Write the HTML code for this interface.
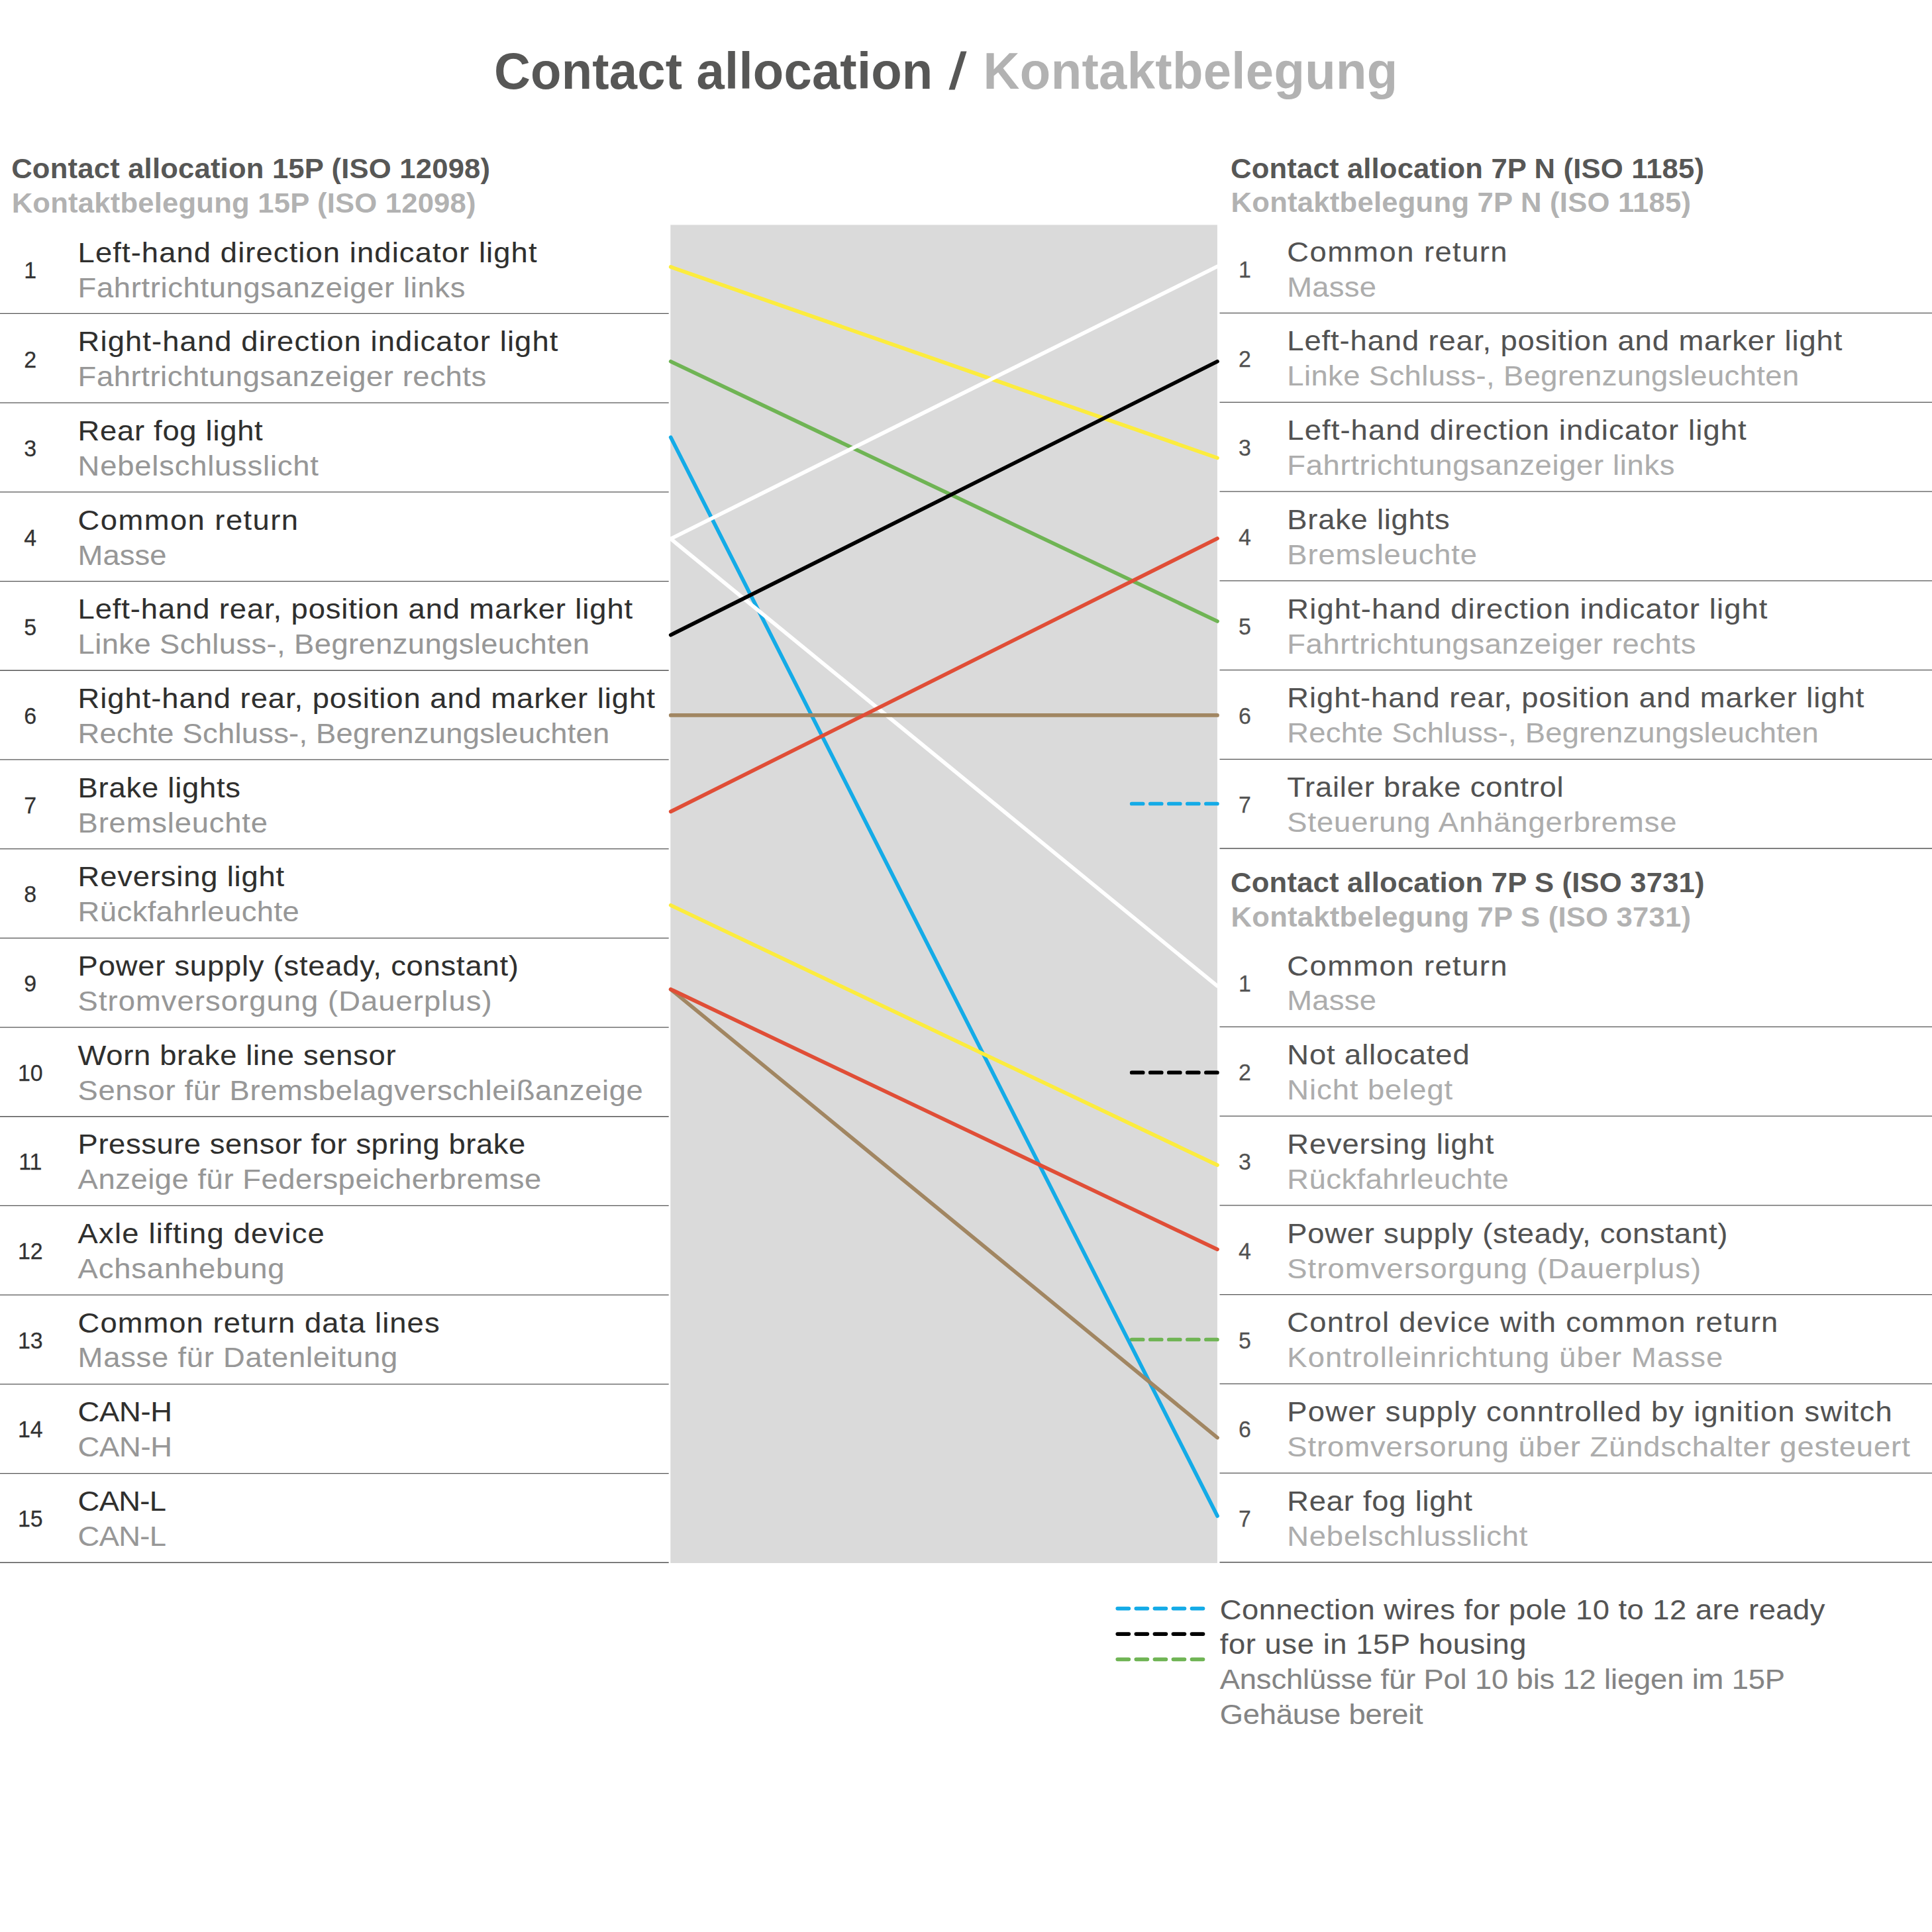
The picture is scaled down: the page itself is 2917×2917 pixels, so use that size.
<!DOCTYPE html>
<html lang="en"><head><meta charset="utf-8">
<title>Contact allocation / Kontaktbelegung</title>
<style>
html,body{margin:0;padding:0;background:#fff;}
body{width:2917px;height:2917px;overflow:hidden;position:relative;}
svg{display:block;position:absolute;left:0;top:0;font-family:"Liberation Sans", Arial, Helvetica, sans-serif;}
text{white-space:pre;}
.sep line{stroke:#555555;stroke-width:1.3;}
.wire line{stroke-width:5.7;stroke-linecap:round;fill:none;}
.dash line{stroke-width:5.7;stroke-linecap:round;stroke-dasharray:17 11.05;}
</style></head><body>
<svg width="2917" height="2917" viewBox="0 0 2917 2917">
<rect x="0" y="0" width="2917" height="2917" fill="#ffffff"/>
<rect x="1012.3" y="339.5" width="825.6" height="2020.5" fill="#dadada"/>
<g class="sep">
<line x1="0" y1="473.46" x2="1009.7" y2="473.46"/>
<line x1="0" y1="608.16" x2="1009.7" y2="608.16"/>
<line x1="0" y1="742.86" x2="1009.7" y2="742.86"/>
<line x1="0" y1="877.56" x2="1009.7" y2="877.56"/>
<line x1="0" y1="1012.26" x2="1009.7" y2="1012.26"/>
<line x1="0" y1="1146.96" x2="1009.7" y2="1146.96"/>
<line x1="0" y1="1281.66" x2="1009.7" y2="1281.66"/>
<line x1="0" y1="1416.36" x2="1009.7" y2="1416.36"/>
<line x1="0" y1="1551.06" x2="1009.7" y2="1551.06"/>
<line x1="0" y1="1685.76" x2="1009.7" y2="1685.76"/>
<line x1="0" y1="1820.46" x2="1009.7" y2="1820.46"/>
<line x1="0" y1="1955.16" x2="1009.7" y2="1955.16"/>
<line x1="0" y1="2089.86" x2="1009.7" y2="2089.86"/>
<line x1="0" y1="2224.56" x2="1009.7" y2="2224.56"/>
<line x1="0" y1="2359.26" x2="1009.7" y2="2359.26"/>
<line x1="1841.5" y1="472.70" x2="2917" y2="472.70"/>
<line x1="1841.5" y1="607.42" x2="2917" y2="607.42"/>
<line x1="1841.5" y1="742.14" x2="2917" y2="742.14"/>
<line x1="1841.5" y1="876.85" x2="2917" y2="876.85"/>
<line x1="1841.5" y1="1011.57" x2="2917" y2="1011.57"/>
<line x1="1841.5" y1="1146.29" x2="2917" y2="1146.29"/>
<line x1="1841.5" y1="1281.01" x2="2917" y2="1281.01"/>
<line x1="1841.5" y1="1550.44" x2="2917" y2="1550.44"/>
<line x1="1841.5" y1="1685.16" x2="2917" y2="1685.16"/>
<line x1="1841.5" y1="1819.88" x2="2917" y2="1819.88"/>
<line x1="1841.5" y1="1954.60" x2="2917" y2="1954.60"/>
<line x1="1841.5" y1="2089.32" x2="2917" y2="2089.32"/>
<line x1="1841.5" y1="2224.03" x2="2917" y2="2224.03"/>
<line x1="1841.5" y1="2358.75" x2="2917" y2="2358.75"/>
</g>
<g class="dash">
<line x1="1708.7" y1="1213.5" x2="1837.9" y2="1213.5" stroke="#14abe7"/>
<line x1="1708.7" y1="1619.4" x2="1837.9" y2="1619.4" stroke="#000000"/>
<line x1="1708.7" y1="2022.5" x2="1837.9" y2="2022.5" stroke="#6fb454"/>
<line x1="1687.3" y1="2428.6" x2="1816.5" y2="2428.6" stroke="#14abe7"/>
<line x1="1687.3" y1="2467.1" x2="1816.5" y2="2467.1" stroke="#000000"/>
<line x1="1687.3" y1="2505.3" x2="1816.5" y2="2505.3" stroke="#6fb454"/>
</g>
<g class="wire">
<line x1="1012.7" y1="403.0" x2="1838.0" y2="691.4" stroke="#fcec3e"/>
<line x1="1012.7" y1="545.8" x2="1838.0" y2="938.0" stroke="#6fb454"/>
<line x1="1012.7" y1="660.3" x2="1838.0" y2="2288.9" stroke="#14abe7"/>
<line x1="1012.7" y1="813.5" x2="1838.0" y2="402.3" stroke="#ffffff" stroke-width="5"/>
<line x1="1012.7" y1="813.5" x2="1838.0" y2="1488.8" stroke="#ffffff" stroke-width="5"/>
<line x1="1012.7" y1="958.7" x2="1838.0" y2="545.8" stroke="#000000"/>
<line x1="1012.7" y1="1079.9" x2="1838.0" y2="1079.9" stroke="#a18662"/>
<line x1="1012.7" y1="1225.4" x2="1838.0" y2="813.0" stroke="#e04e37"/>
<line x1="1012.7" y1="1366.8" x2="1838.0" y2="1759.1" stroke="#fcec3e"/>
<line x1="1012.7" y1="1493.7" x2="1838.0" y2="2170.6" stroke="#a18662"/>
<line x1="1012.7" y1="1493.7" x2="1838.0" y2="1886.4" stroke="#e04e37"/>
</g>
<g>
<text transform="translate(745.88 134.00) scale(0.975 1)" font-size="78" font-weight="700" fill="#575756" style="letter-spacing:0.205px">Contact allocation</text>
<text transform="translate(1432.10 134.00) scale(0.975 1) skewX(-7.4)" font-size="78" font-weight="700" fill="#575756" style="letter-spacing:0.000px">/</text>
<text transform="translate(1484.62 134.00) scale(0.975 1)" font-size="78" font-weight="700" fill="#b2b2b2" style="letter-spacing:0.340px">Kontaktbelegung</text>
<text transform="translate(17.18 268.50) scale(1.015 1)" font-size="43" font-weight="700" fill="#575756" style="letter-spacing:0.176px">Contact allocation 15P (ISO 12098)</text>
<text transform="translate(17.67 321.30) scale(1.015 1)" font-size="43" font-weight="700" fill="#b2b2b2" style="letter-spacing:0.190px">Kontaktbelegung 15P (ISO 12098)</text>
<text transform="translate(1858.08 268.50) scale(1.015 1)" font-size="43" font-weight="700" fill="#575756" style="letter-spacing:0.156px">Contact allocation 7P N (ISO 1185)</text>
<text transform="translate(1858.57 320.20) scale(1.015 1)" font-size="43" font-weight="700" fill="#b2b2b2" style="letter-spacing:0.220px">Kontaktbelegung 7P N (ISO 1185)</text>
<text transform="translate(1858.08 1346.60) scale(1.015 1)" font-size="43" font-weight="700" fill="#575756" style="letter-spacing:0.174px">Contact allocation 7P S (ISO 3731)</text>
<text transform="translate(1858.57 1399.40) scale(1.015 1)" font-size="43" font-weight="700" fill="#b2b2b2" style="letter-spacing:0.220px">Kontaktbelegung 7P S (ISO 3731)</text>
<text transform="translate(117.60 395.75) scale(1.055 1)" font-size="43" font-weight="400" fill="#2f2f2e" stroke="#2f2f2e" stroke-width="0.12" style="letter-spacing:1.042px">Left-hand direction indicator light</text>
<text transform="translate(117.60 448.65) scale(1.055 1)" font-size="43" font-weight="400" fill="#979797" stroke="#979797" stroke-width="0.12" style="letter-spacing:0.616px">Fahrtrichtungsanzeiger links</text>
<text transform="translate(117.60 530.40) scale(1.055 1)" font-size="43" font-weight="400" fill="#2f2f2e" stroke="#2f2f2e" stroke-width="0.12" style="letter-spacing:1.057px">Right-hand direction indicator light</text>
<text transform="translate(117.60 583.30) scale(1.055 1)" font-size="43" font-weight="400" fill="#979797" stroke="#979797" stroke-width="0.12" style="letter-spacing:0.561px">Fahrtrichtungsanzeiger rechts</text>
<text transform="translate(117.60 665.05) scale(1.055 1)" font-size="43" font-weight="400" fill="#2f2f2e" stroke="#2f2f2e" stroke-width="0.12" style="letter-spacing:0.680px">Rear fog light</text>
<text transform="translate(117.60 717.95) scale(1.055 1)" font-size="43" font-weight="400" fill="#979797" stroke="#979797" stroke-width="0.12" style="letter-spacing:0.769px">Nebelschlusslicht</text>
<text transform="translate(117.60 799.70) scale(1.055 1)" font-size="43" font-weight="400" fill="#2f2f2e" stroke="#2f2f2e" stroke-width="0.12" style="letter-spacing:1.373px">Common return</text>
<text transform="translate(117.60 852.60) scale(1.055 1)" font-size="43" font-weight="400" fill="#979797" stroke="#979797" stroke-width="0.12" style="letter-spacing:0.049px">Masse</text>
<text transform="translate(117.60 934.35) scale(1.055 1)" font-size="43" font-weight="400" fill="#2f2f2e" stroke="#2f2f2e" stroke-width="0.12" style="letter-spacing:0.849px">Left-hand rear, position and marker light</text>
<text transform="translate(117.60 987.25) scale(1.055 1)" font-size="43" font-weight="400" fill="#979797" stroke="#979797" stroke-width="0.12" style="letter-spacing:0.378px">Linke Schluss-, Begrenzungsleuchten</text>
<text transform="translate(117.60 1069.00) scale(1.055 1)" font-size="43" font-weight="400" fill="#2f2f2e" stroke="#2f2f2e" stroke-width="0.12" style="letter-spacing:0.906px">Right-hand rear, position and marker light</text>
<text transform="translate(117.60 1121.90) scale(1.055 1)" font-size="43" font-weight="400" fill="#979797" stroke="#979797" stroke-width="0.12" style="letter-spacing:0.229px">Rechte Schluss-, Begrenzungsleuchten</text>
<text transform="translate(117.60 1203.65) scale(1.055 1)" font-size="43" font-weight="400" fill="#2f2f2e" stroke="#2f2f2e" stroke-width="0.12" style="letter-spacing:0.730px">Brake lights</text>
<text transform="translate(117.60 1256.55) scale(1.055 1)" font-size="43" font-weight="400" fill="#979797" stroke="#979797" stroke-width="0.12" style="letter-spacing:0.781px">Bremsleuchte</text>
<text transform="translate(117.60 1338.30) scale(1.055 1)" font-size="43" font-weight="400" fill="#2f2f2e" stroke="#2f2f2e" stroke-width="0.12" style="letter-spacing:0.785px">Reversing light</text>
<text transform="translate(117.60 1391.20) scale(1.055 1)" font-size="43" font-weight="400" fill="#979797" stroke="#979797" stroke-width="0.12" style="letter-spacing:0.434px">Rückfahrleuchte</text>
<text transform="translate(117.60 1472.95) scale(1.055 1)" font-size="43" font-weight="400" fill="#2f2f2e" stroke="#2f2f2e" stroke-width="0.12" style="letter-spacing:0.737px">Power supply (steady, constant)</text>
<text transform="translate(117.60 1525.85) scale(1.055 1)" font-size="43" font-weight="400" fill="#979797" stroke="#979797" stroke-width="0.12" style="letter-spacing:1.003px">Stromversorgung (Dauerplus)</text>
<text transform="translate(117.60 1607.60) scale(1.055 1)" font-size="43" font-weight="400" fill="#2f2f2e" stroke="#2f2f2e" stroke-width="0.12" style="letter-spacing:0.650px">Worn brake line sensor</text>
<text transform="translate(117.60 1660.50) scale(1.055 1)" font-size="43" font-weight="400" fill="#979797" stroke="#979797" stroke-width="0.12" style="letter-spacing:0.611px">Sensor für Bremsbelagverschleißanzeige</text>
<text transform="translate(117.60 1742.25) scale(1.055 1)" font-size="43" font-weight="400" fill="#2f2f2e" stroke="#2f2f2e" stroke-width="0.12" style="letter-spacing:0.542px">Pressure sensor for spring brake</text>
<text transform="translate(117.60 1795.15) scale(1.055 1)" font-size="43" font-weight="400" fill="#979797" stroke="#979797" stroke-width="0.12" style="letter-spacing:0.518px">Anzeige für Federspeicherbremse</text>
<text transform="translate(117.60 1876.90) scale(1.055 1)" font-size="43" font-weight="400" fill="#2f2f2e" stroke="#2f2f2e" stroke-width="0.12" style="letter-spacing:1.149px">Axle lifting device</text>
<text transform="translate(117.60 1929.80) scale(1.055 1)" font-size="43" font-weight="400" fill="#979797" stroke="#979797" stroke-width="0.12" style="letter-spacing:0.804px">Achsanhebung</text>
<text transform="translate(117.60 2011.55) scale(1.055 1)" font-size="43" font-weight="400" fill="#2f2f2e" stroke="#2f2f2e" stroke-width="0.12" style="letter-spacing:0.995px">Common return data lines</text>
<text transform="translate(117.60 2064.45) scale(1.055 1)" font-size="43" font-weight="400" fill="#979797" stroke="#979797" stroke-width="0.12" style="letter-spacing:0.737px">Masse für Datenleitung</text>
<text transform="translate(117.60 2146.20) scale(1.055 1)" font-size="43" font-weight="400" fill="#2f2f2e" stroke="#2f2f2e" stroke-width="0.12" style="letter-spacing:-0.291px">CAN-H</text>
<text transform="translate(117.60 2199.10) scale(1.055 1)" font-size="43" font-weight="400" fill="#979797" stroke="#979797" stroke-width="0.12" style="letter-spacing:-0.291px">CAN-H</text>
<text transform="translate(117.60 2280.85) scale(1.055 1)" font-size="43" font-weight="400" fill="#2f2f2e" stroke="#2f2f2e" stroke-width="0.12" style="letter-spacing:-0.652px">CAN-L</text>
<text transform="translate(117.60 2333.75) scale(1.055 1)" font-size="43" font-weight="400" fill="#979797" stroke="#979797" stroke-width="0.12" style="letter-spacing:-0.652px">CAN-L</text>
<text transform="translate(1943.30 394.70) scale(1.055 1)" font-size="43" font-weight="400" fill="#525252" stroke="#525252" stroke-width="0.12" style="letter-spacing:1.357px">Common return</text>
<text transform="translate(1943.30 447.60) scale(1.055 1)" font-size="43" font-weight="400" fill="#adadad" stroke="#adadad" stroke-width="0.12" style="letter-spacing:0.262px">Masse</text>
<text transform="translate(1943.30 529.43) scale(1.055 1)" font-size="43" font-weight="400" fill="#525252" stroke="#525252" stroke-width="0.12" style="letter-spacing:0.859px">Left-hand rear, position and marker light</text>
<text transform="translate(1943.30 582.33) scale(1.055 1)" font-size="43" font-weight="400" fill="#adadad" stroke="#adadad" stroke-width="0.12" style="letter-spacing:0.389px">Linke Schluss-, Begrenzungsleuchten</text>
<text transform="translate(1943.30 664.16) scale(1.055 1)" font-size="43" font-weight="400" fill="#525252" stroke="#525252" stroke-width="0.12" style="letter-spacing:1.056px">Left-hand direction indicator light</text>
<text transform="translate(1943.30 717.06) scale(1.055 1)" font-size="43" font-weight="400" fill="#adadad" stroke="#adadad" stroke-width="0.12" style="letter-spacing:0.630px">Fahrtrichtungsanzeiger links</text>
<text transform="translate(1943.30 798.89) scale(1.055 1)" font-size="43" font-weight="400" fill="#525252" stroke="#525252" stroke-width="0.12" style="letter-spacing:0.721px">Brake lights</text>
<text transform="translate(1943.30 851.79) scale(1.055 1)" font-size="43" font-weight="400" fill="#adadad" stroke="#adadad" stroke-width="0.12" style="letter-spacing:0.816px">Bremsleuchte</text>
<text transform="translate(1943.30 933.62) scale(1.055 1)" font-size="43" font-weight="400" fill="#525252" stroke="#525252" stroke-width="0.12" style="letter-spacing:1.068px">Right-hand direction indicator light</text>
<text transform="translate(1943.30 986.52) scale(1.055 1)" font-size="43" font-weight="400" fill="#adadad" stroke="#adadad" stroke-width="0.12" style="letter-spacing:0.578px">Fahrtrichtungsanzeiger rechts</text>
<text transform="translate(1943.30 1068.35) scale(1.055 1)" font-size="43" font-weight="400" fill="#525252" stroke="#525252" stroke-width="0.12" style="letter-spacing:0.902px">Right-hand rear, position and marker light</text>
<text transform="translate(1943.30 1121.25) scale(1.055 1)" font-size="43" font-weight="400" fill="#adadad" stroke="#adadad" stroke-width="0.12" style="letter-spacing:0.224px">Rechte Schluss-, Begrenzungsleuchten</text>
<text transform="translate(1943.30 1203.08) scale(1.055 1)" font-size="43" font-weight="400" fill="#525252" stroke="#525252" stroke-width="0.12" style="letter-spacing:0.739px">Trailer brake control</text>
<text transform="translate(1943.30 1255.98) scale(1.055 1)" font-size="43" font-weight="400" fill="#adadad" stroke="#adadad" stroke-width="0.12" style="letter-spacing:0.859px">Steuerung Anhängerbremse</text>
<text transform="translate(1943.30 1472.54) scale(1.055 1)" font-size="43" font-weight="400" fill="#525252" stroke="#525252" stroke-width="0.12" style="letter-spacing:1.357px">Common return</text>
<text transform="translate(1943.30 1525.44) scale(1.055 1)" font-size="43" font-weight="400" fill="#adadad" stroke="#adadad" stroke-width="0.12" style="letter-spacing:0.262px">Masse</text>
<text transform="translate(1943.30 1607.27) scale(1.055 1)" font-size="43" font-weight="400" fill="#525252" stroke="#525252" stroke-width="0.12" style="letter-spacing:0.840px">Not allocated</text>
<text transform="translate(1943.30 1660.17) scale(1.055 1)" font-size="43" font-weight="400" fill="#adadad" stroke="#adadad" stroke-width="0.12" style="letter-spacing:0.895px">Nicht belegt</text>
<text transform="translate(1943.30 1742.00) scale(1.055 1)" font-size="43" font-weight="400" fill="#525252" stroke="#525252" stroke-width="0.12" style="letter-spacing:0.812px">Reversing light</text>
<text transform="translate(1943.30 1794.90) scale(1.055 1)" font-size="43" font-weight="400" fill="#adadad" stroke="#adadad" stroke-width="0.12" style="letter-spacing:0.461px">Rückfahrleuchte</text>
<text transform="translate(1943.30 1876.73) scale(1.055 1)" font-size="43" font-weight="400" fill="#525252" stroke="#525252" stroke-width="0.12" style="letter-spacing:0.730px">Power supply (steady, constant)</text>
<text transform="translate(1943.30 1929.63) scale(1.055 1)" font-size="43" font-weight="400" fill="#adadad" stroke="#adadad" stroke-width="0.12" style="letter-spacing:0.995px">Stromversorgung (Dauerplus)</text>
<text transform="translate(1943.30 2011.46) scale(1.055 1)" font-size="43" font-weight="400" fill="#525252" stroke="#525252" stroke-width="0.12" style="letter-spacing:1.191px">Control device with common return</text>
<text transform="translate(1943.30 2064.36) scale(1.055 1)" font-size="43" font-weight="400" fill="#adadad" stroke="#adadad" stroke-width="0.12" style="letter-spacing:1.067px">Kontrolleinrichtung über Masse</text>
<text transform="translate(1943.30 2146.19) scale(1.055 1)" font-size="43" font-weight="400" fill="#525252" stroke="#525252" stroke-width="0.12" style="letter-spacing:1.156px">Power supply conntrolled by ignition switch</text>
<text transform="translate(1943.30 2199.09) scale(1.055 1)" font-size="43" font-weight="400" fill="#adadad" stroke="#adadad" stroke-width="0.12" style="letter-spacing:0.877px">Stromversorung über Zündschalter gesteuert</text>
<text transform="translate(1943.30 2280.92) scale(1.055 1)" font-size="43" font-weight="400" fill="#525252" stroke="#525252" stroke-width="0.12" style="letter-spacing:0.716px">Rear fog light</text>
<text transform="translate(1943.30 2333.82) scale(1.055 1)" font-size="43" font-weight="400" fill="#adadad" stroke="#adadad" stroke-width="0.12" style="letter-spacing:0.757px">Nebelschlusslicht</text>
<text transform="translate(1841.70 2444.70) scale(1.055 1)" font-size="43" font-weight="400" fill="#545454" stroke="#545454" stroke-width="0.12" style="letter-spacing:0.469px">Connection wires for pole 10 to 12 are ready</text>
<text transform="translate(1841.70 2497.40) scale(1.055 1)" font-size="43" font-weight="400" fill="#545454" stroke="#545454" stroke-width="0.12" style="letter-spacing:0.554px">for use in 15P housing</text>
<text transform="translate(1841.70 2550.00) scale(1.055 1)" font-size="43" font-weight="400" fill="#848484" stroke="#848484" stroke-width="0.12" style="letter-spacing:-0.146px">Anschlüsse für Pol 10 bis 12 liegen im 15P</text>
<text transform="translate(1841.70 2602.60) scale(1.055 1)" font-size="43" font-weight="400" fill="#848484" stroke="#848484" stroke-width="0.12" style="letter-spacing:-0.230px">Gehäuse bereit</text>
<text transform="translate(45.80 419.90) scale(0.97 1)" text-anchor="middle" font-size="35" fill="#333333" stroke="#333333" stroke-width="0.3">1</text>
<text transform="translate(45.80 554.55) scale(0.97 1)" text-anchor="middle" font-size="35" fill="#333333" stroke="#333333" stroke-width="0.3">2</text>
<text transform="translate(45.80 689.20) scale(0.97 1)" text-anchor="middle" font-size="35" fill="#333333" stroke="#333333" stroke-width="0.3">3</text>
<text transform="translate(45.80 823.85) scale(0.97 1)" text-anchor="middle" font-size="35" fill="#333333" stroke="#333333" stroke-width="0.3">4</text>
<text transform="translate(45.80 958.50) scale(0.97 1)" text-anchor="middle" font-size="35" fill="#333333" stroke="#333333" stroke-width="0.3">5</text>
<text transform="translate(45.80 1093.15) scale(0.97 1)" text-anchor="middle" font-size="35" fill="#333333" stroke="#333333" stroke-width="0.3">6</text>
<text transform="translate(45.80 1227.80) scale(0.97 1)" text-anchor="middle" font-size="35" fill="#333333" stroke="#333333" stroke-width="0.3">7</text>
<text transform="translate(45.80 1362.45) scale(0.97 1)" text-anchor="middle" font-size="35" fill="#333333" stroke="#333333" stroke-width="0.3">8</text>
<text transform="translate(45.80 1497.10) scale(0.97 1)" text-anchor="middle" font-size="35" fill="#333333" stroke="#333333" stroke-width="0.3">9</text>
<text transform="translate(45.80 1631.75) scale(0.97 1)" text-anchor="middle" font-size="35" fill="#333333" stroke="#333333" stroke-width="0.3">10</text>
<text transform="translate(45.80 1766.40) scale(0.97 1)" text-anchor="middle" font-size="35" fill="#333333" stroke="#333333" stroke-width="0.3">11</text>
<text transform="translate(45.80 1901.05) scale(0.97 1)" text-anchor="middle" font-size="35" fill="#333333" stroke="#333333" stroke-width="0.3">12</text>
<text transform="translate(45.80 2035.70) scale(0.97 1)" text-anchor="middle" font-size="35" fill="#333333" stroke="#333333" stroke-width="0.3">13</text>
<text transform="translate(45.80 2170.35) scale(0.97 1)" text-anchor="middle" font-size="35" fill="#333333" stroke="#333333" stroke-width="0.3">14</text>
<text transform="translate(45.80 2305.00) scale(0.97 1)" text-anchor="middle" font-size="35" fill="#333333" stroke="#333333" stroke-width="0.3">15</text>
<text transform="translate(1879.40 418.85) scale(0.97 1)" text-anchor="middle" font-size="35" fill="#525252" stroke="#525252" stroke-width="0.3">1</text>
<text transform="translate(1879.40 553.58) scale(0.97 1)" text-anchor="middle" font-size="35" fill="#525252" stroke="#525252" stroke-width="0.3">2</text>
<text transform="translate(1879.40 688.31) scale(0.97 1)" text-anchor="middle" font-size="35" fill="#525252" stroke="#525252" stroke-width="0.3">3</text>
<text transform="translate(1879.40 823.04) scale(0.97 1)" text-anchor="middle" font-size="35" fill="#525252" stroke="#525252" stroke-width="0.3">4</text>
<text transform="translate(1879.40 957.77) scale(0.97 1)" text-anchor="middle" font-size="35" fill="#525252" stroke="#525252" stroke-width="0.3">5</text>
<text transform="translate(1879.40 1092.50) scale(0.97 1)" text-anchor="middle" font-size="35" fill="#525252" stroke="#525252" stroke-width="0.3">6</text>
<text transform="translate(1879.40 1227.23) scale(0.97 1)" text-anchor="middle" font-size="35" fill="#525252" stroke="#525252" stroke-width="0.3">7</text>
<text transform="translate(1879.40 1496.69) scale(0.97 1)" text-anchor="middle" font-size="35" fill="#525252" stroke="#525252" stroke-width="0.3">1</text>
<text transform="translate(1879.40 1631.42) scale(0.97 1)" text-anchor="middle" font-size="35" fill="#525252" stroke="#525252" stroke-width="0.3">2</text>
<text transform="translate(1879.40 1766.15) scale(0.97 1)" text-anchor="middle" font-size="35" fill="#525252" stroke="#525252" stroke-width="0.3">3</text>
<text transform="translate(1879.40 1900.88) scale(0.97 1)" text-anchor="middle" font-size="35" fill="#525252" stroke="#525252" stroke-width="0.3">4</text>
<text transform="translate(1879.40 2035.61) scale(0.97 1)" text-anchor="middle" font-size="35" fill="#525252" stroke="#525252" stroke-width="0.3">5</text>
<text transform="translate(1879.40 2170.34) scale(0.97 1)" text-anchor="middle" font-size="35" fill="#525252" stroke="#525252" stroke-width="0.3">6</text>
<text transform="translate(1879.40 2305.07) scale(0.97 1)" text-anchor="middle" font-size="35" fill="#525252" stroke="#525252" stroke-width="0.3">7</text>
</g>
</svg></body></html>
